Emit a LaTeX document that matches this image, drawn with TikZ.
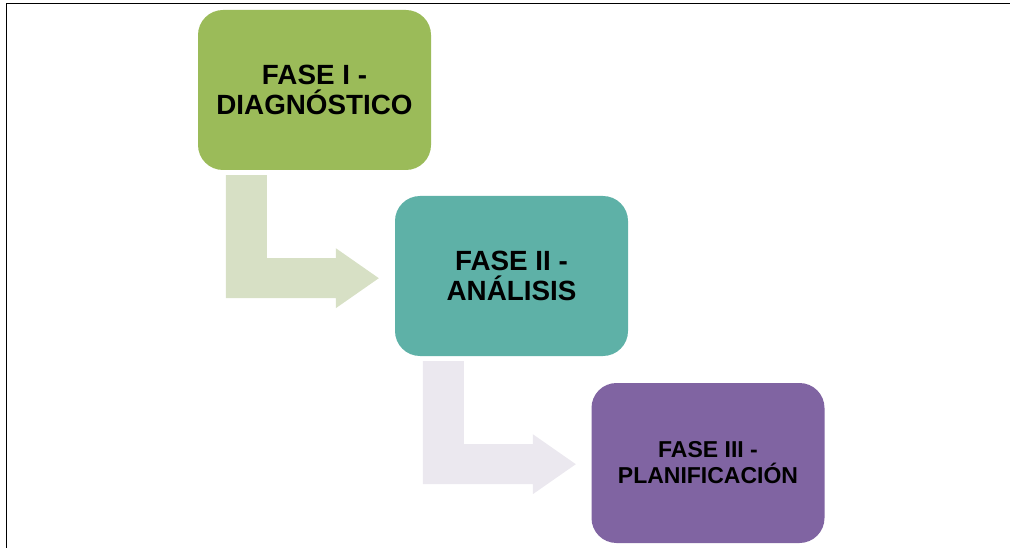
\documentclass[tikz,border=0pt]{standalone}
\usepackage{fontspec}
\setmainfont{Liberation Sans}
\usetikzlibrary{calc}

\definecolor{fasegreen}{HTML}{9BBB59}
\definecolor{faseteal}{HTML}{5EB1A7}
\definecolor{fasepurple}{HTML}{8064A2}
\definecolor{arrowgreen}{HTML}{D7E0C5}
\definecolor{arrowlilac}{HTML}{EBE8EF}

\tikzset{
  fase/.style={rounded corners=25pt, minimum width=233pt, minimum height=160pt,
    align=center, text=black, inner sep=0pt},
  bigtxt/.style={font=\bfseries\fontsize{27.8}{30}\selectfont},
  smalltxt/.style={font=\bfseries\fontsize{23}{26}\selectfont},
}

\begin{document}
\begin{tikzpicture}[x=1pt, y=-1pt]
    \useasboundingbox (0,0) rectangle (1010,548);

    % frame
    \draw[line width=1.6pt] (6.5,548) -- (6.5,3.5) -- (1010,3.5);

    \node[fase, bigtxt, fill=fasegreen] (fase1) at (314.5,90) {FASE I -\\DIAGNÓSTICO};
    \node[fase, bigtxt, fill=faseteal] (fase2) at (511.5,276) {FASE II -\\ANÁLISIS};
    \node[fase, smalltxt, fill=fasepurple] (fase3) at (708,463) {FASE III -\\PLANIFICACIÓN};

    % bent arrows between the phases
    \foreach \from/\col in {fase1/arrowgreen, fase2/arrowlilac}
      \fill[\col, shift={($(\from.south west)+(28,5)$)}]
        (0,0) -- (41,0) -- (41,83) -- (110,83) -- (110,73) -- (153,103)
        -- (110,133) -- (110,123) -- (0,123) -- cycle;
\end{tikzpicture}
\end{document}
